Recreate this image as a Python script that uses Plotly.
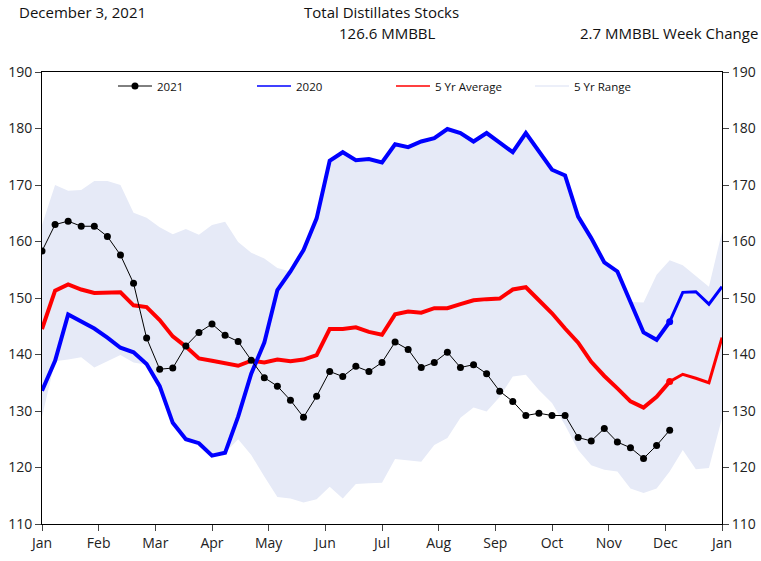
import plotly.graph_objects as go

# ---- data ----
weeks = list(range(53))
month_labels = ["Jan", "Feb", "Mar", "Apr", "May", "Jun", "Jul", "Aug", "Sep", "Oct", "Nov", "Dec", "Jan"]
y_ticks = [110, 120, 130, 140, 150, 160, 170, 180, 190]

stocks_2021 = [158.3, 163.0, 163.6, 162.7, 162.7, 160.9, 157.6, 152.6, 142.9, 137.4,
               137.6, 141.5, 143.9, 145.4, 143.4, 142.3, 139.0, 135.9, 134.4, 131.9,
               128.9, 132.6, 137.0, 136.1, 137.9, 137.0, 138.6, 142.2, 140.9, 137.7,
               138.6, 140.4, 137.7, 138.2, 136.6, 133.5, 131.7, 129.2, 129.6, 129.2,
               129.2, 125.3, 124.7, 126.9, 124.5, 123.5, 121.6, 123.9, 126.6]

stocks_2020 = [133.6, 138.9, 147.1, 145.9, 144.6, 143.0, 141.2, 140.4, 138.3, 134.4,
               127.9, 125.0, 124.3, 122.1, 122.6, 129.0, 136.6, 142.1, 151.4, 154.7,
               158.5, 164.1, 174.3, 175.8, 174.4, 174.6, 174.0, 177.2, 176.7, 177.7,
               178.3, 179.9, 179.2, 177.7, 179.2, 177.5, 175.8, 179.2, 175.9, 172.7,
               171.7, 164.4, 160.6, 156.3, 154.7, 149.3, 143.9, 142.6, 145.8, 151.0,
               151.1, 148.9, 152.0]

avg_5yr = [144.5, 151.3, 152.4, 151.5, 150.9, 151.0, 151.0, 148.7, 148.4, 146.1,
           143.2, 141.4, 139.3, 138.9, 138.4, 138.0, 138.9, 138.6, 139.1, 138.8,
           139.1, 139.9, 144.5, 144.5, 144.8, 144.0, 143.5, 147.1, 147.6, 147.4,
           148.2, 148.2, 148.9, 149.6, 149.8, 149.9, 151.5, 151.9, 149.6, 147.3,
           144.6, 142.1, 138.7, 136.2, 134.0, 131.7, 130.6, 132.5, 135.2, 136.5,
           135.8, 135.0, 143.0]

range_high = [162.9, 170.0, 169.0, 169.1, 170.7, 170.7, 170.0, 165.1, 164.2, 162.5,
              161.3, 162.2, 161.2, 162.9, 163.5, 159.9, 158.0, 157.0, 155.3, 154.7,
              158.5, 164.1, 174.3, 175.8, 174.4, 174.6, 174.0, 177.2, 176.7, 177.7,
              178.3, 179.9, 179.2, 177.7, 179.2, 177.5, 175.8, 179.2, 175.9, 172.7,
              171.7, 164.4, 160.6, 156.3, 154.7, 149.3, 149.2, 154.1, 156.7, 155.8,
              153.9, 152.0, 161.7]

range_low = [129.0, 138.8, 139.1, 139.5, 137.7, 138.8, 139.9, 138.6, 138.2, 134.4,
             127.9, 125.0, 124.3, 122.1, 122.6, 125.0, 122.2, 118.4, 114.8, 114.5,
             113.8, 114.4, 116.6, 114.5, 117.1, 117.2, 117.3, 121.5, 121.2, 121.0,
             124.0, 125.2, 128.8, 130.6, 129.9, 132.5, 136.1, 136.4, 133.7, 131.4,
             127.5, 123.1, 120.4, 119.6, 119.3, 116.3, 115.5, 116.3, 119.3, 123.1,
             119.7, 119.9, 128.7]

report_date = "December 3, 2021"
chart_title = "Total Distillates Stocks"
latest_value = "126.6 MMBBL"
week_change = "2.7 MMBBL Week Change"

# ---- styling ----
FONT = "Open Sans"
BAND = "#E6EAF7"
cur = len(stocks_2021) - 1  # index of the current week

fig = go.Figure()

# 5-year range band
fig.add_trace(go.Scatter(x=weeks, y=range_low, mode="lines", line=dict(width=0, color=BAND),
                         showlegend=False, hoverinfo="skip"))
fig.add_trace(go.Scatter(x=weeks, y=range_high, mode="lines", line=dict(width=0, color=BAND),
                         fill="tonexty", fillcolor=BAND, showlegend=False, hoverinfo="skip"))

# 5-year average: thick to the current week, thinner afterwards
fig.add_trace(go.Scatter(x=weeks[:cur + 1], y=avg_5yr[:cur + 1], mode="lines",
                         line=dict(color="#FF0000", width=4), showlegend=False))
fig.add_trace(go.Scatter(x=weeks[cur:], y=avg_5yr[cur:], mode="lines",
                         line=dict(color="#FF0000", width=3), showlegend=False))
fig.add_trace(go.Scatter(x=[weeks[cur]], y=[avg_5yr[cur]], mode="markers",
                         marker=dict(color="#FF0000", size=7), showlegend=False))

# 2020
fig.add_trace(go.Scatter(x=weeks[:cur + 1], y=stocks_2020[:cur + 1], mode="lines",
                         line=dict(color="#0000FF", width=4), showlegend=False))
fig.add_trace(go.Scatter(x=weeks[cur:], y=stocks_2020[cur:], mode="lines",
                         line=dict(color="#0000FF", width=3), showlegend=False))
fig.add_trace(go.Scatter(x=[weeks[cur]], y=[stocks_2020[cur]], mode="markers",
                         marker=dict(color="#0000FF", size=7), showlegend=False))

# 2021
fig.add_trace(go.Scatter(x=weeks[:len(stocks_2021)], y=stocks_2021, mode="lines+markers",
                         name="2021", line=dict(color="black", width=1),
                         marker=dict(color="black", size=7), legendrank=1))

# legend-only entries
fig.add_trace(go.Scatter(x=[None], y=[None], mode="lines", name="2020",
                         line=dict(color="#0000FF", width=1.5), legendrank=2))
fig.add_trace(go.Scatter(x=[None], y=[None], mode="lines", name="5 Yr Average",
                         line=dict(color="#FF0000", width=1.5), legendrank=3))
fig.add_trace(go.Scatter(x=[None], y=[None], mode="lines", name="5 Yr Range",
                         line=dict(color=BAND, width=1.5), legendrank=4))

month_pos = [52 / 12 * k for k in range(13)]

axis_common = dict(showgrid=False, zeroline=False, showline=True, linecolor="black",
                   linewidth=1, ticks="outside", ticklen=6, tickcolor="#444",
                   tickfont=dict(family=FONT, size=14, color="#222"), automargin=False)

fig.update_layout(
    width=761, height=561,
    margin=dict(l=42, r=39, t=72, b=37, autoexpand=False),
    paper_bgcolor="white", plot_bgcolor="white",
    font=dict(family=FONT, color="#111"),
    xaxis=dict(range=[0, 52], tickvals=month_pos, ticktext=month_labels, mirror=True,
               **axis_common),
    yaxis=dict(range=[110, 190], tickvals=y_ticks, mirror=True, **axis_common),
    yaxis2=dict(range=[110, 190], tickvals=y_ticks, overlaying="y", side="right",
                matches="y", **axis_common),
    legend=dict(orientation="h", x=0.1044, xanchor="left", y=0.969, yanchor="middle",
                bgcolor="rgba(0,0,0,0)", font=dict(family=FONT, size=11.5, color="#111"),
                entrywidth=90, entrywidthmode="pixels", itemwidth=34, traceorder="normal"),
    showlegend=True,
    annotations=[
        dict(text=report_date, xref="paper", yref="paper", x=-0.0368, y=1.1327,
             xanchor="left", yanchor="middle", showarrow=False,
             font=dict(family=FONT, size=15, color="#111")),
        dict(text=chart_title, xref="paper", yref="paper", x=(381.7 - 42) / 680, y=1.1327,
             xanchor="center", yanchor="middle", showarrow=False,
             font=dict(family=FONT, size=15, color="#111")),
        dict(text=latest_value, xref="paper", yref="paper", x=(387.3 - 42) / 680,
             y=(524 - 33) / 452, xanchor="center", yanchor="middle", showarrow=False,
             font=dict(family=FONT, size=15, color="#111")),
        dict(text=week_change, xref="paper", yref="paper", x=(760 - 42) / 680,
             y=(524 - 33) / 452, xanchor="right", yanchor="middle", showarrow=False,
             font=dict(family=FONT, size=15, color="#111")),
    ],
)

# dummy trace to anchor the right axis
fig.add_trace(go.Scatter(x=[None], y=[None], yaxis="y2", showlegend=False, hoverinfo="skip"))

fig.write_html("out.html", config={"displayModeBar": False},
               post_script="document.body.style.margin='0';document.body.style.overflow='hidden';")
